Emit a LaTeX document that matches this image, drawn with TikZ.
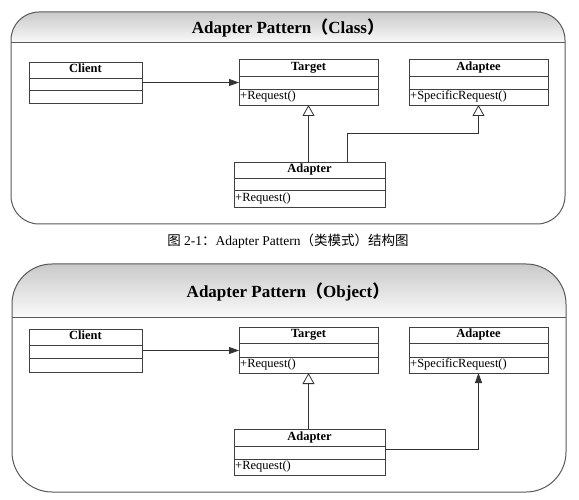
\documentclass[tikz,border=0pt]{standalone}
\usepackage{fontspec}
\setmainfont{Liberation Serif}
\newfontfamily\cjk{Noto Sans CJK SC}
\usetikzlibrary{arrows.meta,calc}

\tikzset{
  frameline/.style={draw=black!65, line width=1pt},
  headshade/.style={top color=black!21, bottom color=black!2},
  cls/.style={draw=black!75, line width=0.8pt, inner sep=0pt, outer sep=0pt, anchor=north west},
  sepline/.style={draw=black!75, line width=0.8pt},
  clsname/.style={font=\fontsize{12.5}{12.5}\selectfont\bfseries, inner sep=0pt, text height=8pt, text depth=2.5pt},
  method/.style={font=\fontsize{12.5}{12.5}\selectfont, inner sep=0pt, anchor=west, text height=8pt, text depth=2.5pt},
  titletext/.style={font=\fontsize{17}{17}\selectfont\bfseries, inner sep=0pt},
  captiontext/.style={font=\fontsize{13.5}{13.5}\selectfont, inner sep=0pt},
  link/.style={draw=black!80, line width=0.8pt},
  assoc/.style={link, -{Triangle[length=10pt,width=7pt]}},
  inherit/.style={link, -{Triangle[open,length=11pt,width=12pt,fill=white]}},
}

% name, x, y, width, height, first separator, second separator, title, method
\newcommand\umlclass[9]{%
  \node[cls, minimum width=#4pt, minimum height=#5pt] (#1) at (#2,#3) {};
  \draw[sepline] ($(#1.north west)+(0,#6)$) -- ($(#1.north east)+(0,#6)$);
  \draw[sepline] ($(#1.north west)+(0,#7)$) -- ($(#1.north east)+(0,#7)$);
  \node[clsname] (#1-name) at ($(#1.north)+(0,{#6/2})$) {#8};
  \if\relax\detokenize{#9}\relax\else
    \node[method] (#1-op) at ($(#1.north west)+(1,{(#7+#5)/2})$) {#9};
  \fi
}

\begin{document}
\begin{tikzpicture}[x=1pt,y=-1pt]
\useasboundingbox (0,0) rectangle (579,500);

% ---------- top frame ----------
\begin{scope}
  \clip[rounded corners=28pt] (11,12) rectangle (565,224);
  \shade[headshade] (11,12) rectangle (565,43);
\end{scope}
\draw[frameline, rounded corners=28pt] (11,12) rectangle (565,224);
\draw[frameline] (11,43) -- (565,43);
\node[titletext] (title1) at (288,28) {Adapter Pattern{\cjk\bfseries （}Class{\cjk\bfseries ）}};

\umlclass{client}{29}{62}{113}{41}{16}{28}{Client}{}
\umlclass{target}{239}{59}{139}{46}{17}{30}{Target}{+Request()}
\umlclass{adaptee}{409}{59}{139}{46}{17}{30}{Adaptee}{+SpecificRequest()}
\umlclass{adapter}{234}{162}{151}{45}{16}{28}{Adapter}{+Request()}

\draw[assoc] (client.east) -- (client.east -| target.west);
\draw[inherit] (adapter.north -| target.south) -- (target.south);
\coordinate (b1) at (347,133);
\draw[inherit] (adapter.north -| b1) -- (b1) -| (adaptee.south);

% ---------- caption ----------
\node[captiontext] (caption) at (288,241) {{\cjk 图} 2-1{\cjk ：}Adapter Pattern{\cjk （类模式）结构图}};

% ---------- bottom frame ----------
\begin{scope}
  \clip[rounded corners=40pt] (12,264) rectangle (566,492);
  \shade[headshade] (12,264) rectangle (566,317);
\end{scope}
\draw[frameline, rounded corners=40pt] (12,264) rectangle (566,492);
\draw[frameline] (12,317) -- (566,317);
\node[titletext] (title2) at (288,292) {Adapter Pattern{\cjk\bfseries （}Object{\cjk\bfseries ）}};

\umlclass{client2}{29}{329}{113}{43}{16}{29}{Client}{}
\umlclass{target2}{239}{327}{139}{46}{16}{30}{Target}{+Request()}
\umlclass{adaptee2}{409}{327}{139}{46}{16}{30}{Adaptee}{+SpecificRequest()}
\umlclass{adapter2}{234}{429}{151}{46}{17}{30}{Adapter}{+Request()}

\draw[assoc] (client2.east) -- (client2.east -| target2.west);
\draw[inherit] (adapter2.north -| target2.south) -- (target2.south);
\coordinate (b2) at (0,449);
\draw[assoc] (adapter2.east |- b2) -| (adaptee2.south);
\end{tikzpicture}
\end{document}
